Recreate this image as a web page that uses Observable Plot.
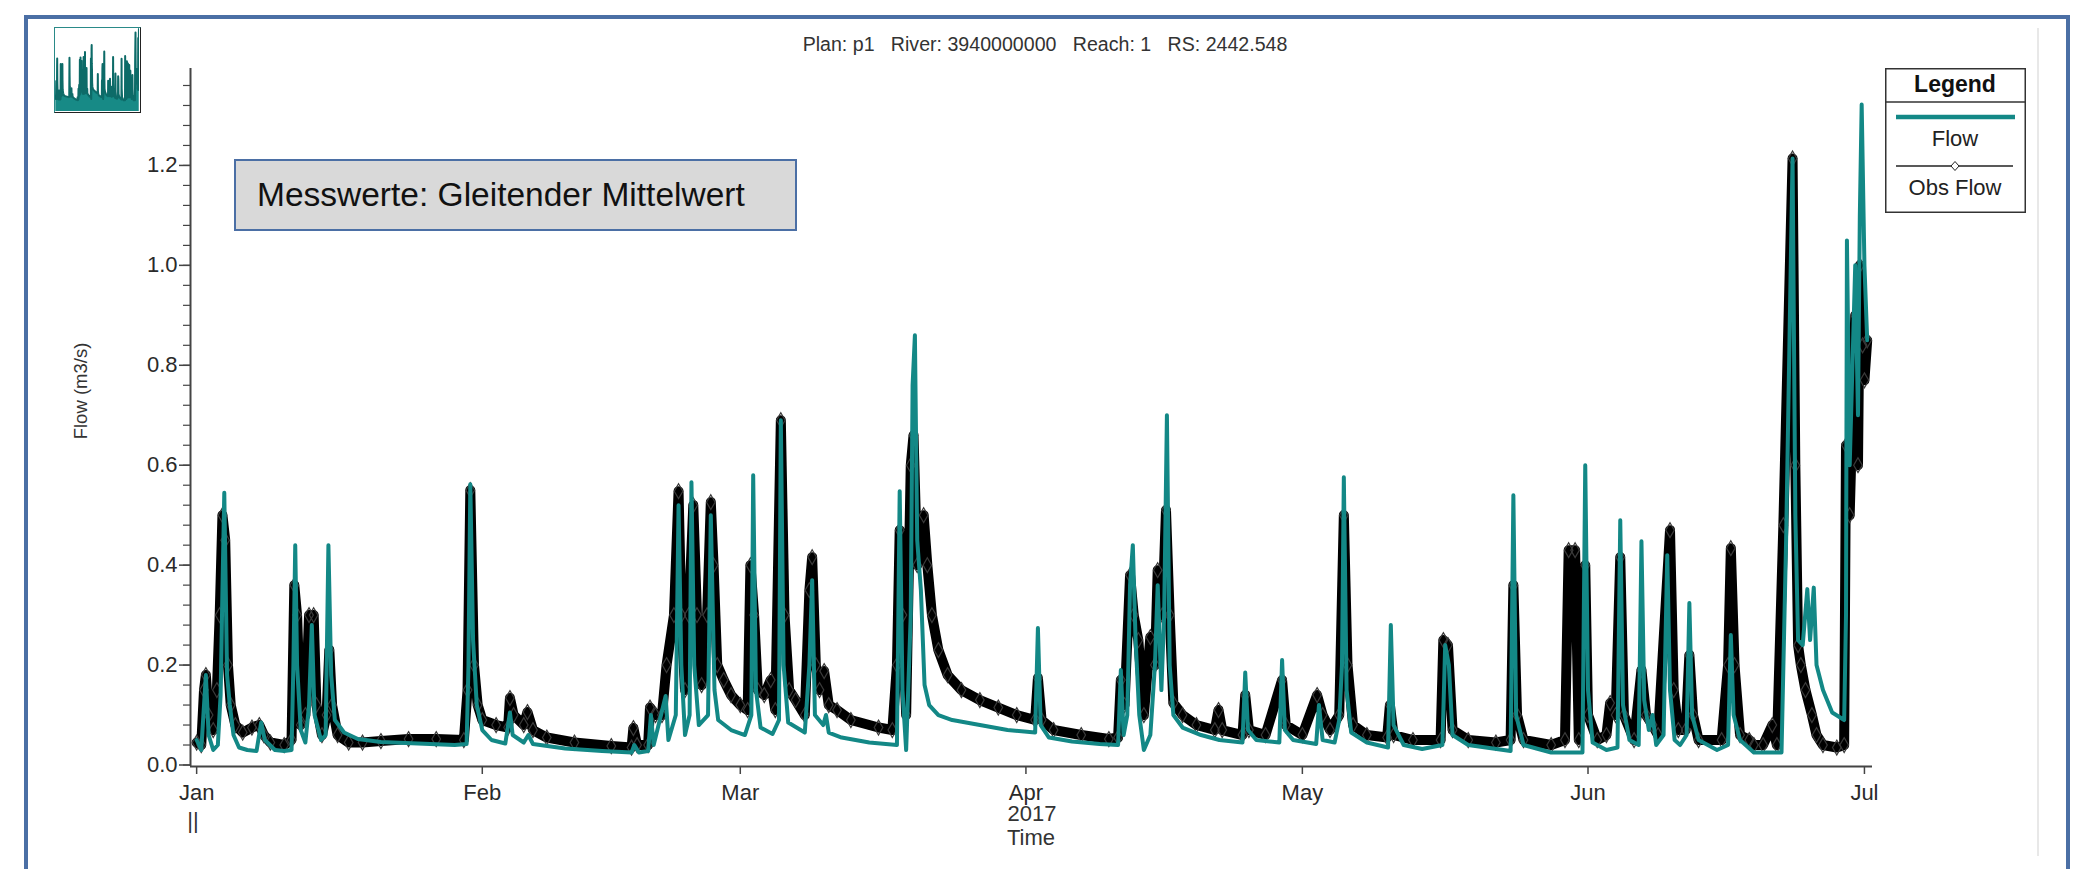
<!DOCTYPE html>
<html>
<head>
<meta charset="utf-8">
<script src="https://cdn.jsdelivr.net/npm/d3@7"></script>
<script src="https://cdn.jsdelivr.net/npm/@observablehq/plot@0.6"></script>
<style>
html,body{margin:0;padding:0;background:#fff;}
#page{position:relative;width:2076px;height:869px;overflow:hidden;font-family:"Liberation Sans",Arial,sans-serif;color:#222;}
.abs{position:absolute;}
#frame{left:24px;top:15px;width:2046px;height:900px;border:4px solid #4b6fa5;border-bottom:none;box-sizing:border-box;}
#faint{left:2037px;top:28px;width:2px;height:828px;background:#e8e8e8;}
#thumb{left:54px;top:27px;width:87px;height:86px;border:1.5px solid #222;border-left-color:#2a8a88;border-top-color:#2a8a88;box-sizing:border-box;background:#fff;overflow:hidden;}
#note{left:234px;top:159px;width:563px;height:72px;background:#d9d9d9;border:2px solid #4b6fa5;box-sizing:border-box;font-size:33.5px;line-height:68px;padding-left:21px;color:#111;white-space:nowrap;}
#title{left:645px;top:33px;width:800px;text-align:center;font-size:19.6px;color:#333;white-space:pre;}
#ylab{left:2px;top:379px;width:160px;text-align:center;font-size:18.5px;color:#333;transform:rotate(-90deg);transform-origin:80px 12px;}
.xl{font-size:22px;color:#333;text-align:center;width:100px;}
#chart{left:0;top:0;}
</style>
</head>
<body>
<div id="page">
  <div id="frame" class="abs"></div>
  <div id="faint" class="abs"></div>
  <div id="chart" class="abs"></div>
  <div id="thumb" class="abs"></div>
  <div id="note" class="abs">Messwerte: Gleitender Mittelwert</div>
  <div id="title" class="abs">Plan: p1   River: 3940000000   Reach: 1   RS: 2442.548</div>
  <div id="ylab" class="abs">Flow (m3/s)</div>
  <div class="abs xl" style="left:143px;top:808px;">||</div>
  <div class="abs xl" style="left:982px;top:801px;">2017</div>
  <div class="abs xl" style="left:981px;top:825px;">Time</div>
  <svg id="legend" class="abs" style="left:1885px;top:68px;" width="141" height="145"></svg>
</div>
<script>
// ---- data (days since 2017-01-01 00:00, flow in m3/s) ----
const flowDays = [0.0,0.5,0.8,1.0,1.3,1.8,2.3,2.6,2.8,3.0,3.3,3.6,4.0,4.6,5.5,6.5,7.0,7.4,8.5,9.5,
10.3,10.5,10.7,10.9,11.3,11.8,12.2,12.5,12.8,13.5,14.0,14.3,14.6,15.0,16.0,17.5,20,24,28,29.3,
29.5,29.7,30.0,30.4,31.0,32.0,33.5,34.0,34.3,35.5,36.0,36.5,40,44,47.2,47.5,48,49.0,49.3,49.6,
50.9,51.2,52.0,52.3,52.6,53.0,53.5,53.7,54.0,54.5,55.5,55.8,56.2,56.6,58,59.5,60.2,60.4,60.7,61.2,
62.5,63.2,63.4,63.7,64.2,66.0,66.5,66.8,67.1,68.0,68.3,68.6,70,73,76.0,76.3,76.6,77.0,77.5,77.7,
77.95,78.2,78.6,79.0,79.5,80.5,82,85,88,91.0,91.3,91.6,92.5,95,98,100.0,100.3,100.6,101.0,101.3,
101.6,101.9,102.3,102.8,103.5,104.0,104.3,104.7,105.0,105.3,105.6,106.0,107,109,111,113.5,113.8,114.1,115,117.5,
117.8,118.1,119,121.5,121.8,122.2,123.5,124.0,124.3,124.5,124.8,125.3,127,129.3,129.6,129.9,131,133,135.2,135.5,
135.9,136.3,138,142.6,142.9,143.2,144,147,150.4,150.7,151.0,151.5,153,154.2,154.5,154.8,155.5,156.5,156.8,157.1,
157.6,158.0,158.4,159.2,159.6,159.9,160.4,161.0,161.7,162.0,162.3,163,165,166.2,166.5,166.8,167.5,169,172.0,172.5,
173.2,173.5,173.8,174.3,174.8,175.1,175.5,175.8,176.5,177.5,178.8,179.0,179.1,179.4,179.7,180.0,180.3,180.5,180.7,181.0,181.3];
const flowValues = [0.05,0.03,0.12,0.18,0.06,0.03,0.04,0.14,0.35,0.545,0.18,0.12,0.06,0.035,0.03,0.028,0.085,0.05,0.03,0.028,
0.03,0.2,0.44,0.2,0.07,0.045,0.12,0.28,0.1,0.05,0.06,0.44,0.18,0.09,0.065,0.052,0.046,0.043,0.04,0.042,
0.2,0.562,0.25,0.12,0.07,0.05,0.043,0.105,0.06,0.045,0.06,0.042,0.033,0.028,0.025,0.04,0.025,0.028,0.1,0.04,
0.138,0.05,0.1,0.52,0.2,0.06,0.1,0.566,0.2,0.08,0.1,0.5,0.15,0.09,0.07,0.06,0.1,0.58,0.15,0.075,
0.062,0.09,0.69,0.2,0.085,0.065,0.2,0.37,0.1,0.08,0.1,0.065,0.055,0.045,0.04,0.548,0.15,0.03,0.3,0.76,
0.86,0.45,0.35,0.16,0.12,0.1,0.09,0.08,0.07,0.065,0.274,0.08,0.055,0.047,0.042,0.04,0.19,0.06,0.1,0.36,
0.44,0.25,0.1,0.03,0.06,0.2,0.36,0.15,0.3,0.70,0.2,0.1,0.075,0.06,0.05,0.045,0.185,0.07,0.05,0.045,
0.21,0.07,0.05,0.042,0.12,0.05,0.045,0.09,0.2,0.576,0.15,0.065,0.045,0.035,0.28,0.08,0.04,0.032,0.04,0.24,
0.2,0.06,0.04,0.028,0.54,0.1,0.04,0.025,0.025,0.6,0.15,0.045,0.03,0.035,0.49,0.12,0.05,0.04,0.448,0.13,
0.07,0.1,0.04,0.06,0.42,0.15,0.05,0.04,0.06,0.324,0.1,0.05,0.03,0.04,0.26,0.1,0.05,0.025,0.025,0.45,
1.214,0.5,0.25,0.24,0.352,0.25,0.355,0.2,0.15,0.105,0.09,0.3,1.05,0.6,0.8,1.0,0.7,1.1,1.322,1.0,0.85];

const obsDays = [0.0,0.5,0.8,1.0,1.3,1.8,2.2,2.5,2.8,3.1,3.4,3.7,4.2,5.0,6.0,6.8,7.3,8.0,9.5,10.3,
10.6,10.9,11.3,11.8,12.2,12.7,13.0,13.6,14.1,14.4,14.7,15.3,16.5,18,20,23,26,29.0,29.4,29.7,
30.1,30.5,31.0,32.5,33.8,34.0,34.4,35.5,35.9,36.5,38,41,45,47.2,47.4,47.8,49.0,49.2,49.8,50.5,
51.0,51.8,52.3,52.6,53.0,53.4,53.9,54.3,54.8,55.4,55.8,56.1,56.5,57.2,58.0,59,59.8,60.1,60.5,60.9,
61.6,62.3,62.8,63.4,63.8,64.3,65.0,66.0,66.5,66.8,67.2,67.6,68.1,68.6,69.5,71,74,75.5,76.0,76.3,
76.6,77.0,77.5,77.8,78.2,78.9,79.3,79.8,80.5,81.5,83,85,87,89,91.0,91.3,91.7,93,96,99,
100.0,100.3,100.7,101.3,101.7,102.2,102.8,103.5,104.0,104.3,104.8,105.2,105.6,106.0,107,108.5,110.5,110.9,111.3,113.5,
113.8,114.2,116,117.8,118.2,120,121.6,122.2,123,124.0,124.5,124.9,125.5,127,129.2,129.5,129.9,132,135.0,135.3,135.8,
136.3,138,141,142.6,142.9,143.3,144,147.0,148.5,148.9,149.6,150.0,150.7,151.0,152,153.0,153.4,154.0,154.5,154.9,
156.0,156.8,157.3,158.0,158.6,159.9,160.3,160.8,161.6,162.0,162.4,163,165.5,166.2,166.5,166.9,167.5,168.5,169.0,170,
171.0,171.5,172.2,173.2,173.5,173.8,174.1,174.6,175.3,175.8,176.5,178,178.8,179.0,179.4,180.0,180.3,180.5,180.8,181.0,181.3];
const obsValues = [0.045,0.04,0.15,0.18,0.1,0.07,0.15,0.3,0.5,0.45,0.2,0.12,0.08,0.065,0.075,0.08,0.06,0.045,0.04,0.05,
0.36,0.3,0.08,0.1,0.3,0.3,0.12,0.06,0.1,0.23,0.12,0.06,0.045,0.045,0.048,0.052,0.052,0.05,0.15,0.55,
0.2,0.12,0.09,0.08,0.075,0.134,0.1,0.08,0.106,0.07,0.055,0.045,0.038,0.035,0.074,0.04,0.04,0.115,0.1,0.1,
0.2,0.3,0.548,0.3,0.15,0.3,0.52,0.3,0.16,0.3,0.526,0.4,0.2,0.17,0.14,0.12,0.11,0.4,0.3,0.15,
0.14,0.17,0.11,0.69,0.3,0.15,0.13,0.1,0.35,0.416,0.2,0.15,0.188,0.12,0.11,0.09,0.075,0.07,0.2,0.47,
0.3,0.1,0.6,0.66,0.4,0.5,0.4,0.3,0.23,0.18,0.15,0.13,0.115,0.1,0.09,0.174,0.09,0.07,0.06,0.052,
0.055,0.17,0.12,0.38,0.3,0.25,0.1,0.256,0.2,0.39,0.3,0.51,0.3,0.124,0.1,0.08,0.07,0.11,0.07,0.06,
0.14,0.07,0.06,0.17,0.08,0.06,0.14,0.1,0.07,0.1,0.5,0.2,0.08,0.06,0.055,0.12,0.06,0.05,0.05,0.25,0.24,
0.07,0.05,0.045,0.05,0.36,0.1,0.05,0.04,0.05,0.43,0.43,0.05,0.4,0.1,0.05,0.06,0.124,0.1,0.416,0.1,
0.05,0.19,0.1,0.08,0.06,0.47,0.15,0.07,0.07,0.22,0.1,0.05,0.05,0.2,0.434,0.2,0.06,0.05,0.04,0.04,
0.08,0.04,0.48,1.214,0.6,0.24,0.2,0.15,0.1,0.06,0.04,0.035,0.04,0.64,0.5,0.9,0.6,1.0,0.84,0.77,0.85];

const monthTicks = ["2017-01-01","2017-02-01","2017-03-01","2017-04-01","2017-05-01","2017-06-01","2017-07-01"];
const monthLabels = ["Jan","Feb","Mar","Apr","May","Jun","Jul"];
const yMajorTicks = [0,0.2,0.4,0.6,0.8,1.0,1.2];
const yTickLabels = ["0.0","0.2","0.4","0.6","0.8","1.0","1.2"];
const yMinorTicks = d3.range(0,1.395,0.04);

// ---- build tables ----
const t0 = Date.UTC(2017,0,1);
const toDate = d => new Date(t0 + d*864e5);
const flow = flowDays.map((d,i)=>({t:toDate(d), v:flowValues[i]}));
const obs = obsDays.map((d,i)=>({t:toDate(d), v:obsValues[i]}));
const monthDates = monthTicks.map(s=>new Date(s+"T00:00:00Z"));
const xDomain = [new Date(Date.UTC(2016,11,31,8)), new Date(Date.UTC(2017,6,1,21))];
const yDomain = [-0.003, 1.394];
const TEAL = "#138886";
const AX = "#444";

const chart = Plot.plot({
  width:2076, height:869,
  marginLeft:190, marginRight:204, marginTop:68, marginBottom:103,
  style:{background:"transparent", fontFamily:"Liberation Sans, Arial, sans-serif", fontSize:"22px", color:"#2a2a2a", overflow:"visible"},
  x:{type:"utc", domain:xDomain},
  y:{domain:yDomain},
  marks:[
    Plot.line(obs,{x:"t",y:"v",stroke:"#000",strokeWidth:10,strokeLinejoin:"round",strokeLinecap:"round"}),
    Plot.dot(obs,{x:"t",y:"v",symbol:"diamond",r:4.5,stroke:"#3a3a3a",strokeWidth:1.2,fill:"none"}),
    Plot.line(flow,{x:"t",y:"v",stroke:TEAL,strokeWidth:4,strokeLinejoin:"round"}),
    Plot.ruleX([xDomain[0]],{stroke:AX,strokeWidth:2}),
    Plot.ruleY([yDomain[0]],{stroke:AX,strokeWidth:2}),
    Plot.axisY({ticks:yMajorTicks, tickFormat:d=>yTickLabels[yMajorTicks.indexOf(+d.toFixed(1))], tickSize:11, tickPadding:2, stroke:AX, strokeWidth:1.5, fontSize:22, label:null}),
    Plot.axisY({ticks:yMinorTicks, tickFormat:()=>"", tickSize:7, stroke:AX, strokeWidth:1.2, label:null}),
    Plot.axisX({ticks:monthDates, tickFormat:d=>monthLabels[d.getUTCMonth()], tickSize:8, tickPadding:10, stroke:AX, strokeWidth:1.5, fontSize:22, label:null})
  ]
});
document.getElementById("chart").appendChild(chart);

// thumbnail overview
const thumb = Plot.plot({
  width:84, height:83, margin:0,
  style:{background:"transparent"},
  x:{type:"utc", domain:xDomain, axis:null},
  y:{type:"sqrt", domain:[0,1.34], axis:null},
  marks:[
    Plot.areaY(flow,{x:"t",y:"v",fill:"#178a86"}),
    Plot.line(flow,{x:"t",y:"v",stroke:"#0d6b68",strokeWidth:2})
  ]
});
document.getElementById("thumb").appendChild(thumb);

// legend
const FF = "Liberation Sans, Arial, sans-serif";
const lg = d3.select("#legend");
lg.append("rect").attr("x",0.75).attr("y",0.75).attr("width",139.5).attr("height",143.5).attr("fill","#fff").attr("stroke","#333").attr("stroke-width",1.5);
lg.append("text").attr("x",70).attr("y",24).attr("text-anchor","middle").attr("font-family",FF).attr("font-weight","bold").attr("font-size",23).attr("fill","#111").text("Legend");
lg.append("line").attr("x1",0).attr("x2",141).attr("y1",34).attr("y2",34).attr("stroke","#333").attr("stroke-width",1.5);
lg.append("line").attr("x1",11).attr("x2",130).attr("y1",49).attr("y2",49).attr("stroke",TEAL).attr("stroke-width",4.5);
lg.append("text").attr("x",70).attr("y",78).attr("text-anchor","middle").attr("font-family",FF).attr("font-size",22).attr("fill","#222").text("Flow");
lg.append("line").attr("x1",11).attr("x2",128).attr("y1",98).attr("y2",98).attr("stroke","#222").attr("stroke-width",1.5);
lg.append("path").attr("d","M70,93.5L74,98L70,102.5L66,98Z").attr("fill","#fff").attr("stroke","#222").attr("stroke-width",1);
lg.append("text").attr("x",70).attr("y",127).attr("text-anchor","middle").attr("font-family",FF).attr("font-size",22).attr("fill","#222").text("Obs Flow");
</script>
</body>
</html>
